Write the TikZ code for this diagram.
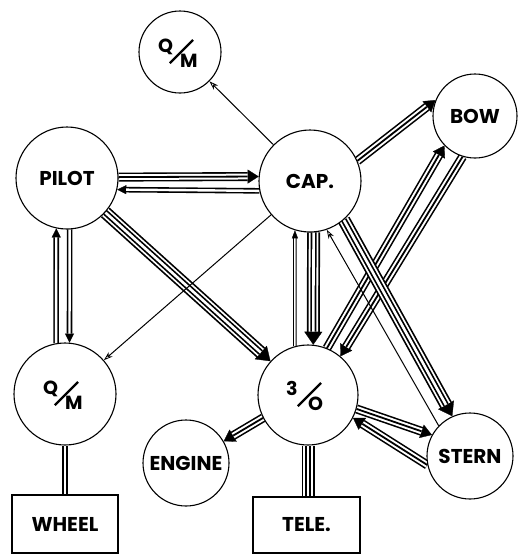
\documentclass[tikz,border=0pt]{standalone}
\usepackage{fontspec}
\setmainfont{Poppins}
\usepackage{graphicx}
\usetikzlibrary{arrows.meta,calc}
\pgfdeclarelayer{bg}
\pgfsetlayers{bg,main}
\newcommand\slfrac[2]{{\fontsize{19}{19}\selectfont\setlength{\unitlength}{1pt}\begin{picture}(42,30)\put(-1,15){#1}\put(21,0){#2}\put(10,3){\rotatebox{45}{\rule{33pt}{2.2pt}}}\end{picture}}}
\tikzset{
  lbl/.style={font=\bfseries\fontsize{20}{20}\selectfont},
  circ/.style={circle, draw, line width=1.1pt, fill=white, inner sep=0pt, lbl},
  box/.style={rectangle, draw, line width=1.1pt, fill=white, inner sep=0pt, lbl},
  one/.style={line width=1pt},
  nar/.style={line width=3.4pt, postaction={draw=white, line width=1.4pt, arrows=-, shorten >=#1}},
  band2/.style={line width=5.6pt, postaction={draw=white,line width=2.4pt,arrows=-,shorten >=#1}},
  band3/.style={line width=9pt, postaction={draw=white,line width=5.8pt,arrows=-,shorten >=#1}, postaction={draw=black,line width=1.8pt,arrows=-,shorten >=#1}},
  band4/.style={line width=13pt, postaction={draw=white,line width=9.6pt,arrows=-,shorten >=#1}, postaction={draw=black,line width=6pt,arrows=-,shorten >=#1}, postaction={draw=white,line width=2.6pt,arrows=-,shorten >=#1}},
  nar/.default=0pt, band2/.default=0pt, band3/.default=0pt, band4/.default=0pt,
  tipO/.style={-{Stealth[length=9pt,width=6pt,line width=0.8pt 0 0,open]}},
  tipN/.style={-{Triangle[length=8pt,width=6pt,line width=0.3pt 0 0]}},
  tip2/.style={-{Triangle[length=9pt,width=9pt,line width=0.3pt 0 0]}},
  tip3/.style={-{Triangle[length=11pt,width=14pt,line width=0.3pt 0 0]}},
  tip4/.style={-{Triangle[length=13pt,width=18pt,line width=0.3pt 0 0]}},
}
\begin{document}
\begin{tikzpicture}[x=1pt,y=-1pt]
\useasboundingbox (0,0) rectangle (523,555);
\node[circ, minimum size=82pt] (QMt) at (180,52) {\slfrac{Q}{M}};
\node[circ, minimum size=102pt] (PILOT) at (67,178) {PILOT};
\node[circ, minimum size=102pt] (CAP) at (310,181) {CAP.};
\node[circ, minimum size=84pt] (BOW) at (475,116) {BOW};
\node[circ, minimum size=102pt] (QMl) at (65,394) {\slfrac{Q}{M}};
\node[circ, minimum size=100pt] (TO) at (308,395) {\slfrac{3}{O}};
\node[circ, minimum size=86pt] (ENG) at (186,463) {ENGINE};
\node[circ, minimum size=86pt] (STERN) at (470,456) {STERN};
\node[box, minimum width=106pt, minimum height=58pt] (WHEEL) at (65,524) {WHEEL};
\node[box, minimum width=107pt, minimum height=56pt] (TELE) at (306.5,525) {TELE.};
\begin{pgfonlayer}{bg}
\draw[one, tipO] (CAP) -- (QMt);
\draw[band3=11pt, tip3] (PILOT.1) -- (CAP.175.5);
\draw[band2=9pt, tip2] (CAP.-169.8) -- (PILOT.-13.6);
\draw[band2=9pt, tip2] (QMl.100.2) -- (PILOT.-102.5);
\draw[band2=9pt, tip2] (PILOT.-87.8) -- (QMl.85.5);
\draw[band4=13pt, tip4] (PILOT) -- (TO);
\draw[one, tipO] (CAP) -- (QMl);
\draw[nar=8pt, tipN] (TO.105.1) -- (CAP.-107.1);
\draw[band4=13pt, tip4] (CAP.-86.6) -- (TO.84.3);
\draw[band3=11pt, tip3] (CAP.23.6) -- (BOW.158);
\draw[band3=11pt, tip3] (TO.68.4) -- (BOW.224);
\draw[band3=11pt, tip3] (BOW.253.7) -- (TO.50);
\draw[band4=13pt, tip4] (CAP.-49.5) -- (STERN.114);
\draw[one, tipO] (STERN.136.8) -- (CAP.-71);
\draw[band3=11pt, tip3] (TO.-16) -- (STERN.151);
\draw[band3=11pt, tip3] (STERN.-168.7) -- (TO.-27);
\draw[band3=11pt, tip3] (TO.207.6) -- (ENG.30);
\draw[band4] (TO.south) -- (TO.south |- TELE.north);
\draw[band2] (QMl.south) -- (QMl.south |- WHEEL.north);
\end{pgfonlayer}
\end{tikzpicture}
\end{document}
